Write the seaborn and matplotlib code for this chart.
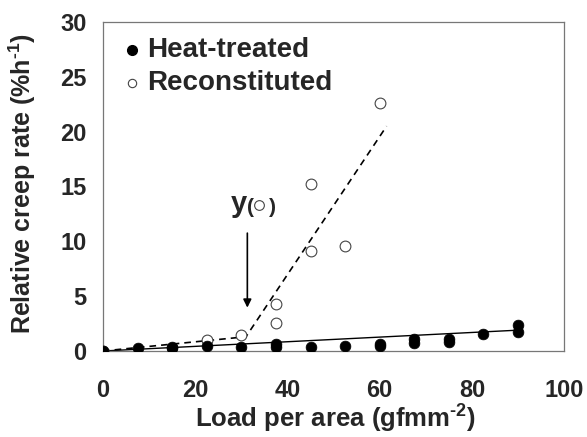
import matplotlib
matplotlib.use("Agg")
import matplotlib.pyplot as plt
import seaborn as sns
import pandas as pd

# Data
heat_x = [0, 7.5, 15, 15, 22.5, 30, 37.5, 37.5, 45, 52.5, 60, 60, 67.5, 67.5, 75, 75, 82.5, 90, 90]
heat_y = [0, 0.25, 0.3, 0.4, 0.45, 0.4, 0.6, 0.37, 0.37, 0.42, 0.6, 0.45, 1.06, 0.76, 1.06, 0.8, 1.52, 2.37, 1.76]

recon_x = [0, 22.5, 30, 37.5, 37.5, 45, 45, 52.5, 60]
recon_y = [0, 1.0, 1.43, 4.28, 2.58, 9.1, 15.2, 9.57, 22.6]

heat_fit_x = [0, 90]
heat_fit_y = [0, 1.9]
recon_fit_x = [0, 31, 61.5]
recon_fit_y = [0, 1.3, 20.5]

x_ticks = [0, 20, 40, 60, 80, 100]
y_ticks = [0, 5, 10, 15, 20, 25, 30]

sns.set_theme(style="white")
plt.rcParams["font.family"] = ["Liberation Sans", "DejaVu Sans"]
plt.rcParams["font.weight"] = "bold"
plt.rcParams["mathtext.fontset"] = "custom"
plt.rcParams["mathtext.rm"] = "Liberation Sans:bold"
plt.rcParams["mathtext.bf"] = "Liberation Sans:bold"
plt.rcParams["mathtext.default"] = "bf"

fig = plt.figure(figsize=(5.87, 4.37), dpi=100)
ax = fig.add_axes([0.1755, 0.1968, 0.961 - 0.1755, 0.9497 - 0.1968])

hf = pd.DataFrame({"x": heat_fit_x, "y": heat_fit_y})
rf = pd.DataFrame({"x": recon_fit_x, "y": recon_fit_y})
sns.lineplot(data=hf, x="x", y="y", ax=ax, color="black", lw=1.0, sort=False)
sns.lineplot(data=rf, x="x", y="y", ax=ax, color="black", lw=1.2, sort=False,
             linestyle=(0, (4, 3)))

hd = pd.DataFrame({"x": heat_x, "y": heat_y})
rd = pd.DataFrame({"x": recon_x, "y": recon_y})
sns.scatterplot(data=rd, x="x", y="y", ax=ax, s=60, facecolor="white",
                edgecolor="#444444", linewidth=0.8, zorder=3)
sns.scatterplot(data=hd, x="x", y="y", ax=ax, s=60, color="black",
                edgecolor="black", linewidth=0.5, zorder=4)

ax.set_xlim(0, 100)
ax.set_ylim(0, 30)
ax.set_xticks(x_ticks)
ax.set_yticks(y_ticks)
ax.set_xticklabels([str(t) for t in x_ticks], fontsize=17, fontweight="bold")
ax.set_yticklabels([str(t) for t in y_ticks], fontsize=17, fontweight="bold")
ax.tick_params(axis="both", direction="in", length=6, width=0.8, color="#777777")
ax.tick_params(axis="y", pad=12)
ax.tick_params(axis="x", pad=20)
for s in ax.spines.values():
    s.set_color("#777777")
    s.set_linewidth(0.9)

ax.set_xlabel("Load per area (gfmm$^{‐2}$)", fontsize=18.5, fontweight="bold")
ax.set_ylabel("Relative creep rate (%h$^{‐1}$)", fontsize=18, fontweight="bold")
ax.xaxis.set_label_coords(0.505, -0.158)
ax.yaxis.set_label_coords(-0.14, 0.51)

# Legend (manual, matching the reference)
ax.plot([6.2], [27.4], "o", color="black", ms=7)
ax.text(9.6, 27.4, "Heat-treated", fontsize=20, fontweight="bold", va="center", ha="left")
ax.plot([6.2], [24.4], "o", mfc="white", mec="#444444", mew=0.8, ms=6)
ax.text(9.6, 24.4, "Reconstituted", fontsize=20, fontweight="bold", va="center", ha="left")

# annotation
ax.annotate("", xy=(31.3, 3.7), xytext=(31.3, 11.0),
            arrowprops=dict(arrowstyle="-|>", color="black", lw=1.2, mutation_scale=12))
ax.text(31.2, 13.4, "y", fontsize=21, fontweight="bold", ha="right", va="center")
ax.text(31.3, 13.1, "(", fontsize=15, fontweight="bold", ha="left", va="center")
ax.plot([33.8], [13.3], "o", mfc="white", mec="#444444", mew=0.8, ms=7)
ax.text(36.0, 13.1, ")", fontsize=15, fontweight="bold", ha="left", va="center")

fig.savefig("out.png", dpi=100)
